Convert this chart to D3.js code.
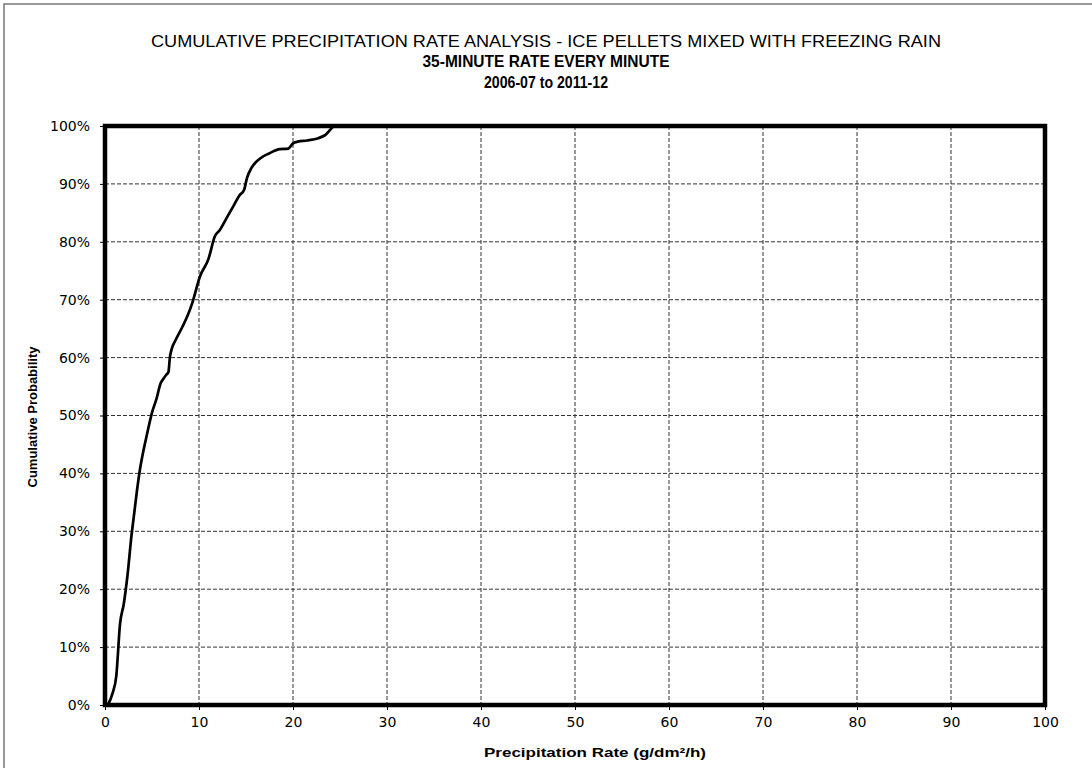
<!DOCTYPE html>
<html><head><meta charset="utf-8">
<script src="https://cdn.jsdelivr.net/npm/d3@7"></script>
<style>body{margin:0;background:#fff}svg{display:block}</style>
</head><body>
<svg id="c" width="1092" height="768"></svg>
<script>
const titleLines = ["CUMULATIVE PRECIPITATION  RATE ANALYSIS - ICE PELLETS MIXED WITH FREEZING RAIN", "35-MINUTE RATE EVERY MINUTE", "2006-07 to 2011-12"];
const xLabel = "Precipitation Rate (g/dm²/h)";
const yLabel = "Cumulative Probability";
const xTicks = [0,10,20,30,40,50,60,70,80,90,100];
const yTicks = [0,10,20,30,40,50,60,70,80,90,100];
const rate = [0.3, 0.8, 1.2, 1.6, 2.0, 2.4, 2.8, 3.1, 3.4, 3.7, 4.1, 4.5, 5.0, 5.5, 5.9, 6.2, 6.5, 6.75, 6.9, 7.1, 7.5, 8.2, 8.8, 9.3, 10.1, 11.0, 11.7, 12.2, 12.9, 13.6, 14.3, 14.8, 15.1, 15.6, 16.5, 17.5, 18.6, 19.5, 20.0, 20.5, 21.5, 22.7, 23.4, 24.5, 100];
const prob = [0, 2, 5, 14, 17.5, 22.5, 29, 33, 37, 40.5, 44, 47, 50.5, 53, 55.5, 56.3, 57, 57.5, 60, 61.5, 63, 65.2, 67.3, 69.5, 74, 77, 81, 82, 84, 86, 88, 89, 91, 92.8, 94.4, 95.3, 96, 96.1, 97, 97.3, 97.5, 97.9, 98.4, 100, 100];

const svg = d3.select("#c");
const L = 105, R = 1045, T = 126, B = 705;
const x = d3.scaleLinear().domain([0,100]).range([L,R]);
const y = d3.scaleLinear().domain([0,100]).range([B,T]);

// outer border
svg.append("rect").attr("x",4).attr("y",4).attr("width",1200).attr("height",1000)
  .attr("fill","none").attr("stroke","#777").attr("stroke-width",1.5);

// titles
const tw = [790, 247, 124];
const ty = [47, 67, 88];
titleLines.forEach((t,i)=>{
  svg.append("text").attr("x",546).attr("y",ty[i]).attr("text-anchor","middle")
    .attr("font-family","'Liberation Sans Narrow','Liberation Sans',Arial,sans-serif")
    .attr("font-size",16.5).attr("font-weight", i===0?"normal":"bold")
    .attr("textLength",tw[i]).attr("lengthAdjust","spacingAndGlyphs")
    .text(t);
});

// grid
const g = svg.append("g");
g.selectAll(".gx").data(xTicks.slice(1,-1)).join("line")
  .attr("x1",d=>x(d)).attr("x2",d=>x(d)).attr("y1",T).attr("y2",B)
  .attr("stroke","#333").attr("stroke-width",1).attr("stroke-dasharray","4,2");
g.selectAll(".gy").data(yTicks.slice(1,-1)).join("line")
  .attr("y1",d=>y(d)).attr("y2",d=>y(d)).attr("x1",L).attr("x2",R)
  .attr("stroke","#333").attr("stroke-width",1).attr("stroke-dasharray","4,2");

// axes
const xa = svg.append("g").attr("transform",`translate(0,${B})`)
  .call(d3.axisBottom(x).tickValues(xTicks).tickSize(5).tickPadding(7).tickFormat(d3.format("d")));
const ya = svg.append("g").attr("transform",`translate(${L},0)`)
  .call(d3.axisLeft(y).tickValues(yTicks).tickSize(5).tickPadding(10).tickFormat(d=>d+"%"));
[xa,ya].forEach(a=>{
  a.select(".domain").remove();
  a.selectAll("line").attr("stroke","#000");
  a.selectAll("text").attr("font-family","'DejaVu Sans',Verdana,sans-serif").attr("font-size",14).attr("fill","#000");
});

// curve
const pts = rate.map((r,i)=>[r,prob[i]]);
svg.append("path").datum(pts)
  .attr("d", d3.line().x(d=>x(d[0])).y(d=>y(d[1])).curve(d3.curveMonotoneX))
  .attr("fill","none").attr("stroke","#000").attr("stroke-width",2.7).attr("stroke-linejoin","round");

// plot border
svg.append("rect").attr("x",L).attr("y",T).attr("width",R-L).attr("height",B-T)
  .attr("fill","none").attr("stroke","#000").attr("stroke-width",4.5);

// axis titles
svg.append("text").attr("x",595).attr("y",757).attr("text-anchor","middle")
  .attr("font-family","'Liberation Sans Narrow','Liberation Sans',Arial,sans-serif")
  .attr("font-size",13).attr("font-weight","bold").attr("textLength",222).attr("lengthAdjust","spacingAndGlyphs")
  .text(xLabel);
svg.append("text").attr("transform","translate(37,417) rotate(-90)").attr("text-anchor","middle")
  .attr("font-family","'Liberation Sans Narrow','Liberation Sans',Arial,sans-serif")
  .attr("font-size",13).attr("font-weight","bold").attr("textLength",141).attr("lengthAdjust","spacingAndGlyphs")
  .text(yLabel);
</script>
</body></html>
